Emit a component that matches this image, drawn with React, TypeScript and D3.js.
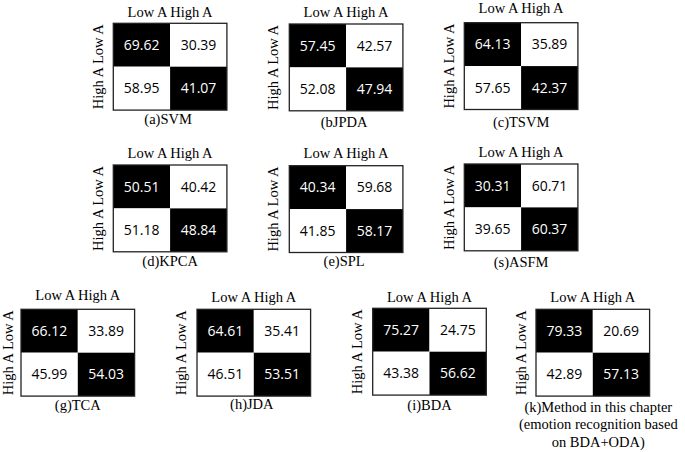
import React from "react";
import * as d3 from "d3";

// ---- data ----
const colLabels = ["Low A", "High A"];
const rowLabels = ["Low A", "High A"];
const headerText = "Low A High A";
const sideText = "High A Low A";

const svm = [69.62, 30.39, 58.95, 41.07];
const jpda = [57.45, 42.57, 52.08, 47.94];
const tsvm = [64.13, 35.89, 57.65, 42.37];
const kpca = [50.51, 40.42, 51.18, 48.84];
const spl = [40.34, 59.68, 41.85, 58.17];
const asfm = [30.31, 60.71, 39.65, 60.37];
const tca = [66.12, 33.89, 45.99, 54.03];
const jda = [64.61, 35.41, 46.51, 53.51];
const bda = [75.27, 24.75, 43.38, 56.62];
const ours = [79.33, 20.69, 42.89, 57.13];

const captions: string[][] = [
  ["(a)SVM"],
  ["(bJPDA"],
  ["(c)TSVM"],
  ["(d)KPCA"],
  ["(e)SPL"],
  ["(s)ASFM"],
  ["(g)TCA"],
  ["(h)JDA"],
  ["(i)BDA"],
  ["(k)Method in this chapter", "(emotion recognition based", "on BDA+ODA)"],
];
const panelValues = [svm, jpda, tsvm, kpca, spl, asfm, tca, jda, bda, ours];

// ---- layout ----
// x, y: box top-left; hy: header baseline; cy: caption baseline; lg: y-label gap; cdx: caption x shift
const layout = [
  { x: 113.3, y: 23.3, hy: 16.7, cy: 124, lg: 10.5, cdx: -2 },
  { x: 289.3, y: 24, hy: 16.7, cy: 127, lg: 11.5, cdx: -2 },
  { x: 464.3, y: 22.7, hy: 12.7, cy: 127.5, lg: 10, cdx: 0 },
  { x: 113.3, y: 165, hy: 158.3, cy: 265.5, lg: 10.5, cdx: 0 },
  { x: 289.3, y: 165.7, hy: 158.3, cy: 266, lg: 11.5, cdx: -2 },
  { x: 464.3, y: 164, hy: 156.7, cy: 267, lg: 10, cdx: 0 },
  { x: 21, y: 309.3, hy: 300, cy: 410.5, lg: 8.3, cdx: 0 },
  { x: 197, y: 309.3, hy: 301.7, cy: 409.5, lg: 10.7, cdx: -2 },
  { x: 372.7, y: 308.3, hy: 301.7, cy: 410, lg: 11, cdx: 0 },
  { x: 536, y: 309.3, hy: 301.7, cy: 412, lg: 10, cdx: 5.5 },
];

const BW = 113.6;
const BH = 86.8;
const serif = "'Liberation Serif', 'Times New Roman', serif";
const sans = "'Open Sans', 'Noto Sans', sans-serif";

function Panel({ idx }: { idx: number }) {
  const L = layout[idx];
  const vals = panelValues[idx];
  const xs = d3.scaleBand<string>().domain(colLabels).range([0, BW]);
  const ys = d3.scaleBand<string>().domain(rowLabels).range([0, BH]);
  const cells = rowLabels.flatMap((r, ri) =>
    colLabels.map((c, ci) => ({ r, c, ri, ci, v: vals[ri * 2 + ci] }))
  );
  const fmt = d3.format(".2f");
  return (
    <g transform={`translate(${L.x},${L.y})`}>
      {cells.map((d) => {
        const dark = d.ri === d.ci;
        return (
          <g key={d.r + d.c}>
            <rect
              x={xs(d.c)!}
              y={ys(d.r)!}
              width={xs.bandwidth()}
              height={ys.bandwidth()}
              fill={dark ? "#000" : "#fff"}
            />
            <text
              x={xs(d.c)! + xs.bandwidth() / 2}
              y={ys(d.r)! + ys.bandwidth() / 2}
              dy="0.36em"
              textAnchor="middle"
              fontFamily={sans}
              fontSize={14}
              fill={dark ? "#fff" : "#000"}
            >
              {fmt(d.v)}
            </text>
          </g>
        );
      })}
      <rect x={0} y={0} width={BW} height={BH} fill="none" stroke="#222" strokeWidth={1.3} />
      <text
        x={BW / 2}
        y={L.hy - L.y}
        textAnchor="middle"
        fontFamily={serif}
        fontSize={14.5}
        fill="#000"
      >
        {headerText}
      </text>
      <text
        transform={`translate(${-L.lg},${BH / 2}) rotate(-90)`}
        textAnchor="middle"
        fontFamily={serif}
        fontSize={14.5}
        fill="#000"
      >
        {sideText}
      </text>
      {captions[idx].map((line, li) => (
        <text
          key={li}
          x={BW / 2 + L.cdx}
          y={L.cy - L.y + li * 17.5}
          textAnchor="middle"
          fontFamily={serif}
          fontSize={14.5}
          fill="#000"
        >
          {line}
        </text>
      ))}
    </g>
  );
}

export default function App() {
  return (
    <svg
      width={685}
      height={452}
      viewBox="0 0 685 452"
      style={{ position: "absolute", left: 0, top: 0, background: "#fff" }}
    >
      <rect width={685} height={452} fill="#fff" />
      {layout.map((_, i) => (
        <Panel key={i} idx={i} />
      ))}
    </svg>
  );
}
